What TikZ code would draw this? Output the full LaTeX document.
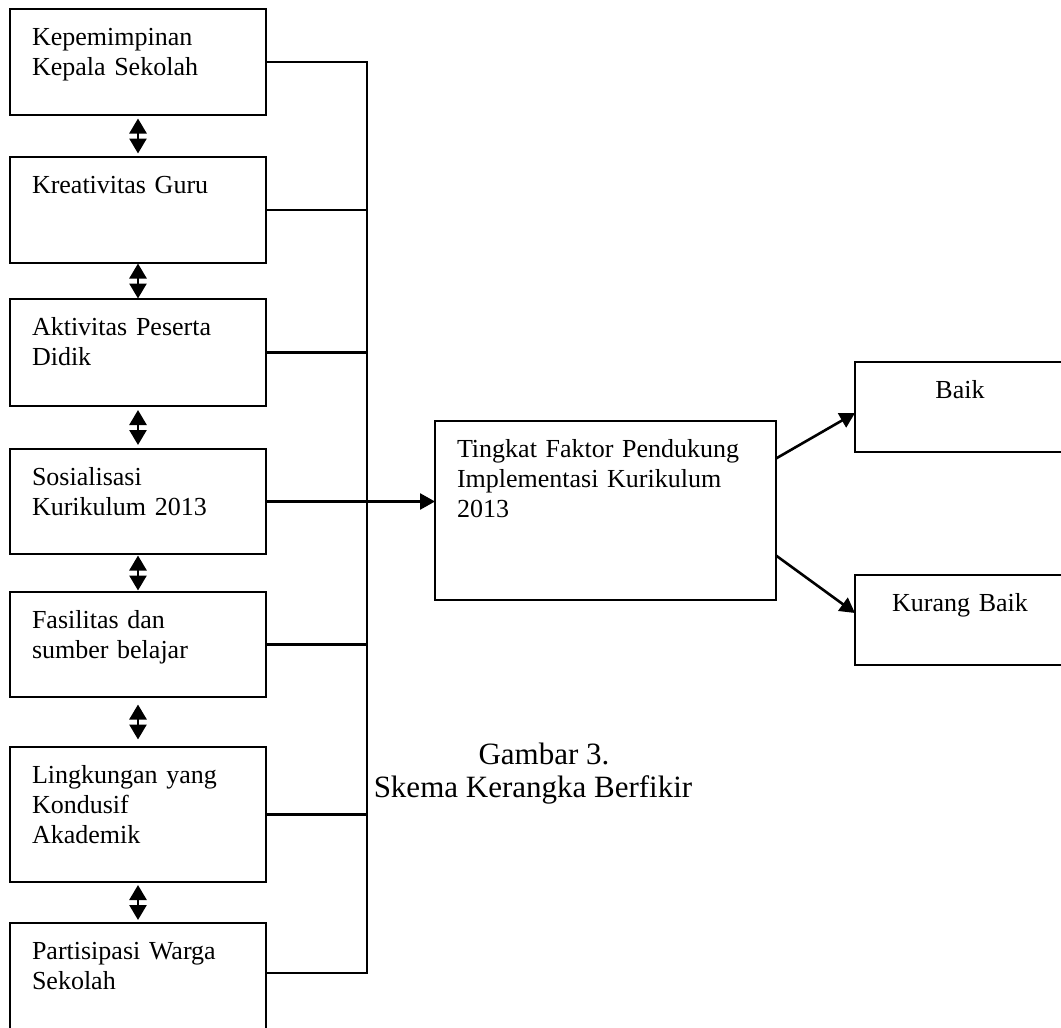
\documentclass[tikz,border=0pt]{standalone}
\usepackage{fontspec}
\setmainfont{Liberation Serif}
\usetikzlibrary{arrows.meta,calc}

\begin{document}
\begin{tikzpicture}[x=1pt, y=-1pt,
        box/.style={draw, line width=2.8pt, anchor=north west, outer sep=0pt, inner xsep=22pt, inner ysep=10pt,
            text width=212pt, align=left, text height=26pt, font=\fontsize{26}{30}\selectfont},
        dbl/.style={line width=2.6pt, {Triangle[length=15pt,width=17pt]}-{Triangle[length=15pt,width=17pt]}},
        conn/.style={line width=2.6pt},
        arr/.style={line width=2.6pt, -{Triangle[length=15pt,width=16pt]}}]
        \useasboundingbox (0,0) rectangle (1061,1028);
        % faktor pendukung
        \node[box, text depth=60pt] (kep) at (10,9) {Kepemimpinan\\Kepala Sekolah};
        \node[box, text depth=60pt] (kre) at (10,157) {Kreativitas Guru};
        \node[box, text depth=61pt] (akt) at (10,299) {Aktivitas Peserta\\Didik};
        \node[box, text depth=59pt] (sos) at (10,449) {Sosialisasi\\Kurikulum 2013};
        \node[box, text depth=59pt] (fas) at (10,592) {Fasilitas dan\\sumber belajar};
        \node[box, text depth=89pt] (lin) at (10,747) {Lingkungan yang\\Kondusif\\Akademik};
        \node[box, text depth=64pt] (par) at (10,923) {Partisipasi Warga\\Sekolah};
        % tingkat dan hasil
        \node[box, text width=297pt, text depth=133pt] (tfp) at (435,421) {Tingkat Faktor Pendukung\\Implementasi Kurikulum\\2013};
        \node[box, text width=166pt, align=center, text depth=44pt] (baik) at (855,362) {Baik};
        \node[box, text width=166pt, align=center, text depth=44pt] (kur) at (855,575) {Kurang Baik};
        % keterangan
        \node[font=\fontsize{31}{33}\selectfont, align=center, anchor=base] (cap) at (533,797) {\hspace*{22pt}Gambar 3.\\Skema Kerangka Berfikir};
        % hubungan antar faktor
        \foreach \a/\b/\s in {kep/kre/3.5, kre/akt/0.5, akt/sos/4, sos/fas/1.5, fas/lin/7.5, lin/par/3}
        {
            \draw[dbl, shorten <=\s pt, shorten >=\s pt] (\a) -- (\b);
        }
        % garis penghubung
        \coordinate (bt) at (367,62);
        \coordinate (bb) at (367,973);
        \draw[conn] (kep.east) -- (bt) -- (bb) -- ([yshift=5pt]par.east);
        \foreach \b in {kre,akt,fas,lin}
        {
            \draw[conn] (\b.east) -- (\b.east -| bt);
        }
        \draw[arr] (sos.east) -- (sos.east -| tfp.west);
        \draw[arr] ([yshift=52pt]tfp.east) -- ([yshift=-6pt]baik.west);
        \draw[arr] ([yshift=-45pt]tfp.east) -- ([yshift=7pt]kur.west);
\end{tikzpicture}
\end{document}
